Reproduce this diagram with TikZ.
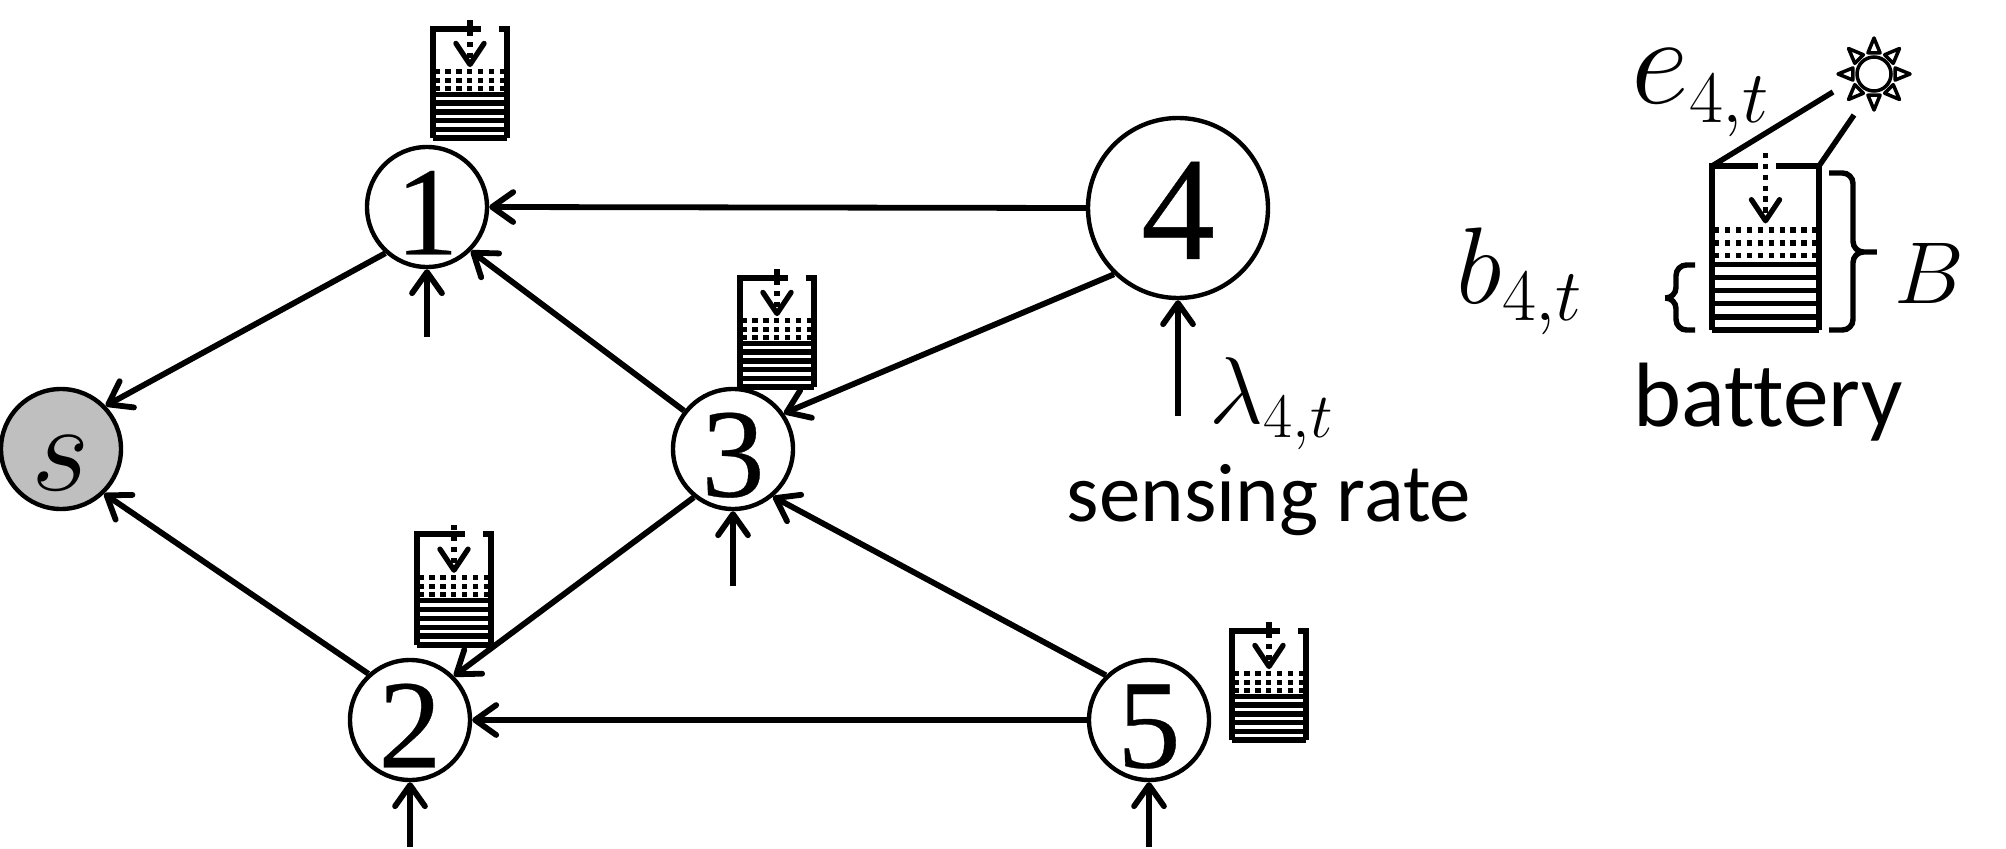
\documentclass[tikz,border=0pt]{standalone}
\usepackage{fix-cm}
\usepackage{fontspec}
\newfontfamily\labelfont[Ligatures=NoCommon]{Carlito}
\newfontfamily\digitfont[FakeBold=0.25]{Liberation Serif}
\usetikzlibrary{arrows.meta}
\DeclareMathSizes{36}{36}{21}{15}
\DeclareMathSizes{31}{31}{21}{15}
\DeclareMathSizes{27}{27}{18}{13}

\tikzset{
	vertex/.style={draw, circle, line width=1.25pt, fill=white, minimum size=1.2cm, inner sep=0pt, text height=27pt, text depth=0pt, font=\digitfont\fontsize{36}{40}\selectfont},
	link/.style={line width=1.65pt, -{Straight Barb[length=6pt,width=8.5pt,round]}},
	wall/.style={line width=1.55pt},
	dots/.style={line width=1.5pt, dash pattern=on 1.5pt off 1.6pt},
	mathlabel/.style={inner sep=0pt, anchor=base west, font=\fontsize{31}{37}\selectfont},
	textlabel/.style={inner sep=0pt, anchor=base, font=\labelfont\fontsize{23.6}{28}\selectfont}
}

% x, y of the top left corner, width, height, gap in the lid
\newcommand{\battery}[6]{
	\begin{scope}[shift={(#1,#2)}, x=#3cm, y=#4cm]
		\draw[wall] (0,-1) -- (0,0) -- (#5,0);
		\draw[wall] (#6,0) -- (1,0) -- (1,-1);
		\foreach \h in {-0.6,-0.68,-0.76,-0.84,-0.92,-1}
			\draw[wall] (0,\h) -- (1,\h);
		\foreach \h in {-0.39,-0.47,-0.545}
			\draw[dots] (0.02,\h) -- (0.98,\h);
		\draw[dots, -{Straight Barb[length=6pt,width=8pt,round]}] (0.5,0.08) -- (0.5,-0.35);
	\end{scope}
}

\begin{document}
\begin{tikzpicture}
	\useasboundingbox (0,0) rectangle (20.06,8.48);

	\node[vertex, fill=black!25, text height=23.5pt] (s) at (0.61,3.99) {$s$};
	\node[vertex] (n1) at (4.27,6.41) {1};
	\node[vertex] (n2) at (4.10,1.28) {2};
	\node[vertex] (n3) at (7.33,3.99) {3};
	\node[vertex, minimum size=1.8cm, text height=29pt, font=\digitfont\fontsize{42}{46}\selectfont] (n4) at (11.78,6.40) {4};
	\node[vertex] (n5) at (11.49,1.28) {5};

	\draw[link] (n4.west) -- (n1.east);
	\draw[link] (n4.226) -- (n3.35);
	\draw[link] (n1.228) -- (s.44);
	\draw[link] (n2.132) -- (s.-46);
	\draw[link] (n3.142) -- (n1.-45);
	\draw[link] (n3.231) -- (n2.45);
	\draw[link] (n5.134) -- (n3.-50);
	\draw[link] (n5.west) -- (n2.east);

	\coordinate (r1) at (4.27,5.11);
	\coordinate (r2) at (4.10,0.01);
	\coordinate (r3) at (7.33,2.62);
	\coordinate (r4) at (11.78,4.32);
	\coordinate (r5) at (11.49,0.01);
	\foreach \i in {1,...,5}
		\draw[link] (r\i) -- (n\i.south);

	\battery{4.33}{8.19}{0.74}{1.09}{0.65}{0.89}
	\battery{7.40}{5.70}{0.74}{1.09}{0.65}{0.89}
	\battery{4.17}{3.14}{0.74}{1.11}{0.65}{0.89}
	\battery{12.32}{2.17}{0.74}{1.09}{0.65}{0.89}
	\battery{17.12}{6.82}{1.07}{1.64}{0.43}{0.60}

	% sun
	\node[draw, circle, line width=1pt, minimum size=0.34cm, inner sep=0pt] (sun) at (18.74,7.74) {};
	\foreach \a in {0,45,...,315}
		\draw[line width=1pt, line join=round] ([shift={(\a-16:0.22)}]sun.center) -- ([shift={(\a:0.36)}]sun.center) -- ([shift={(\a+16:0.22)}]sun.center) -- cycle;
	\coordinate (ray1) at (18.33,7.56);
	\coordinate (ray2) at (18.54,7.33);
	\coordinate (lid1) at (17.12,6.82);
	\coordinate (lid2) at (18.19,6.82);
	\draw[wall] (ray1) -- (lid1);
	\draw[wall] (ray2) -- (lid2);

	% braces
	\draw[wall, rounded corners=3pt] (18.29,6.75) -- (18.53,6.75) -- (18.53,5.96) -- (18.83,5.96) -- (18.53,5.96) -- (18.53,5.18) -- (18.29,5.18);
	\draw[wall, rounded corners=3pt] (16.95,5.83) -- (16.76,5.83) -- (16.76,5.50) -- (16.63,5.50) -- (16.76,5.50) -- (16.76,5.18) -- (16.95,5.18);

	\node[mathlabel, font=\fontsize{36}{40}\selectfont] (e4t) at (16.31,7.44) {$e_{4,t}$};
	\node[mathlabel] (b4t) at (14.56,5.44) {$b_{4,t}$};
	\node[mathlabel, font=\fontsize{25}{30}\selectfont] (cap) at (18.94,5.44) {$B$};
	\node[mathlabel, font=\fontsize{27}{32}\selectfont] (l4t) at (12.09,4.25) {$\lambda_{4,t}$};
	\node[textlabel] (rate) at (12.69,3.27) {sensing rate};
	\node[textlabel, font=\labelfont\fontsize{26}{30}\selectfont] (batt) at (17.68,4.22) {battery};
\end{tikzpicture}
\end{document}
